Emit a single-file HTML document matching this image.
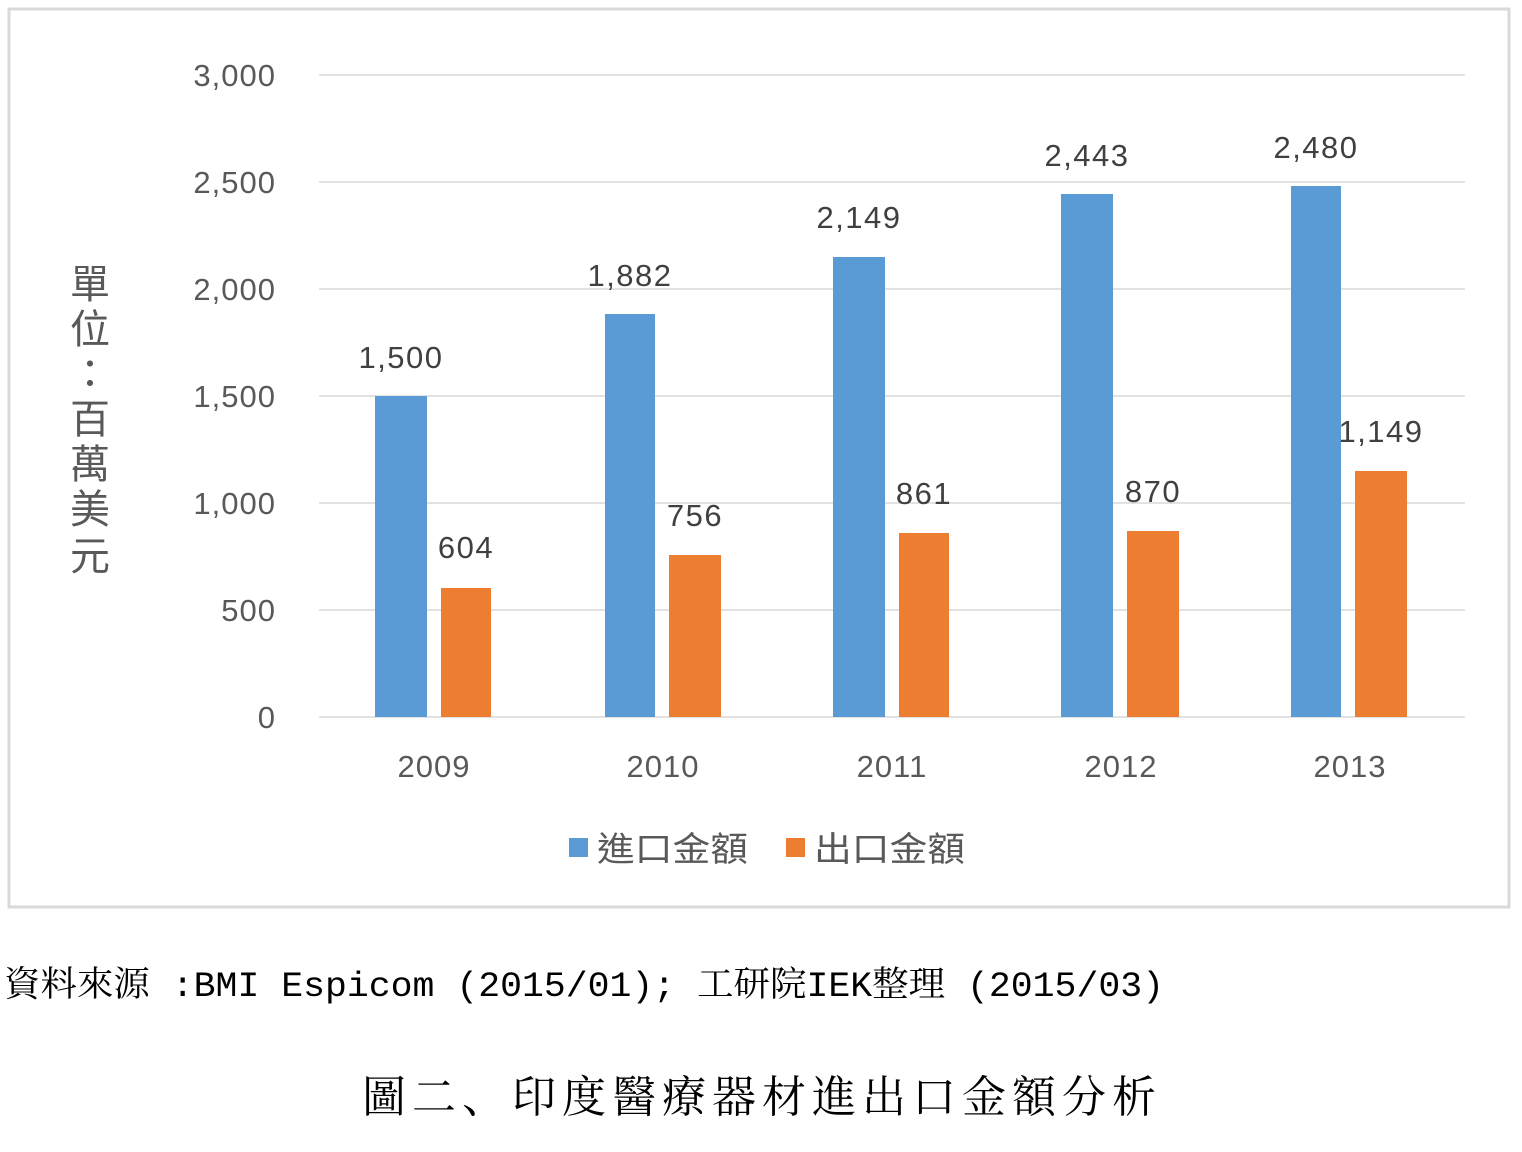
<!DOCTYPE html>
<html><head><meta charset="utf-8"><style>
body{margin:0;background:#fff;width:1522px;height:1152px;overflow:hidden}
</style></head><body>
<svg width="1522" height="1152" xmlns="http://www.w3.org/2000/svg" style="position:absolute;left:0;top:0">
<rect x="9" y="9" width="1500" height="898" fill="#fff" stroke="#d9d9d9" stroke-width="3"/>
<g stroke="#d9d9d9" stroke-width="1.5">
<line x1="319" x2="1465" y1="75" y2="75"/><line x1="319" x2="1465" y1="182" y2="182"/>
<line x1="319" x2="1465" y1="289" y2="289"/><line x1="319" x2="1465" y1="396" y2="396"/>
<line x1="319" x2="1465" y1="503" y2="503"/><line x1="319" x2="1465" y1="610" y2="610"/>
<line x1="319" x2="1465" y1="717" y2="717"/>
</g>
<g font-family="Liberation Sans, sans-serif" font-size="31" fill="#595959" text-anchor="end" letter-spacing="1">
<text x="276" y="86">3,000</text><text x="276" y="193">2,500</text><text x="276" y="300">2,000</text>
<text x="276" y="407">1,500</text><text x="276" y="514">1,000</text><text x="276" y="621">500</text><text x="276" y="728">0</text>
</g>
<g fill="#5b9bd5">
<rect x="375" y="396" width="52" height="321"/><rect x="605" y="314" width="50" height="403"/>
<rect x="833" y="257" width="52" height="460"/><rect x="1061" y="194" width="52" height="523"/>
<rect x="1291" y="186" width="50" height="531"/>
</g>
<g fill="#ed7d31">
<rect x="441" y="588" width="50" height="129"/><rect x="669" y="555" width="52" height="162"/>
<rect x="899" y="533" width="50" height="184"/><rect x="1127" y="531" width="52" height="186"/>
<rect x="1355" y="471" width="52" height="246"/>
</g>
<g font-family="Liberation Sans, sans-serif" font-size="31" fill="#404040" text-anchor="middle" letter-spacing="1.5">
<text x="401" y="368">1,500</text><text x="630" y="286">1,882</text><text x="859" y="228">2,149</text>
<text x="1087" y="166">2,443</text><text x="1316" y="158">2,480</text>
<text x="466" y="558">604</text><text x="695" y="526">756</text><text x="924" y="504">861</text>
<text x="1153" y="502">870</text><text x="1381" y="442">1,149</text>
</g>
<g font-family="Liberation Sans, sans-serif" font-size="31" fill="#595959" text-anchor="middle" letter-spacing="1">
<text x="434" y="777">2009</text><text x="663" y="777">2010</text><text x="892" y="777">2011</text>
<text x="1121" y="777">2012</text><text x="1350" y="777">2013</text>
</g>
<g font-family="Liberation Sans, 'Noto Sans CJK TC', sans-serif" font-size="40" fill="#595959" text-anchor="middle">
<text x="90" y="298">單</text><text x="90" y="343">位</text><text x="90" y="388">：</text>
<text x="90" y="433">百</text><text x="90" y="478">萬</text><text x="90" y="523">美</text><text x="90" y="570">元</text>
</g>
<rect x="569" y="838" width="19" height="19" fill="#5b9bd5"/>
<rect x="786" y="838" width="19" height="19" fill="#ed7d31"/>
<g font-family="'Noto Sans CJK TC', sans-serif" font-size="34" fill="#595959">
<text x="597" y="861" textLength="151" lengthAdjust="spacingAndGlyphs">進口金額</text><text x="814" y="861" textLength="151" lengthAdjust="spacingAndGlyphs">出口金額</text>
</g>
<text x="4" y="996" font-family="Liberation Mono, 'Noto Serif CJK SC', monospace" font-size="35" fill="#000" textLength="1160" lengthAdjust="spacingAndGlyphs">資料來源 :BMI Espicom (2015/01); 工研院IEK整理 (2015/03)</text>
<text x="362" y="1112" font-family="'Noto Serif CJK SC', serif" font-size="44" fill="#000" textLength="794" lengthAdjust="spacing">圖二、印度醫療器材進出口金額分析</text>
</svg>
</body></html>
